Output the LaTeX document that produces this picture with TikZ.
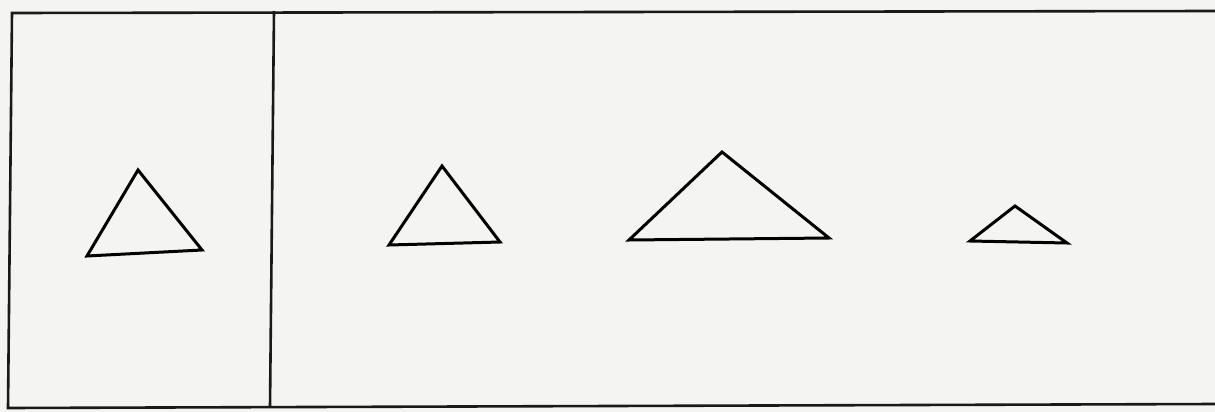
\documentclass[tikz,border=0pt]{standalone}
\usepackage{xcolor}
\usepackage{tikz}
\definecolor{tpaper}{RGB}{244,244,242}

\begin{document}
\begin{tikzpicture}[
  x=0.5pt, y=-0.5pt,
  tframe/.style={draw=black!90, line width=1.3pt},
  ttri/.style={draw=black, line width=1.5pt, line join=miter},
]
  % page and margins
  \fill[tpaper] (0,0) rectangle (1215,412);
  \useasboundingbox (0,0) rectangle (1215,412);
  % 1. frame
  \coordinate (ftl) at (12,13);
  \coordinate (fbl) at (8,408);
  \coordinate (ftr) at (1215,11);
  \coordinate (fbr) at (1215,404);
  \coordinate (dtop) at (274,11);
  \coordinate (dbot) at (270,407);
  \draw[tframe] (ftr) -- (ftl) -- (fbl) -- (fbr);
  \draw[tframe] (dtop) -- (dbot);
  % 2. sample triangle
  \coordinate (a1) at (87,256);
  \coordinate (b1) at (202,250);
  \coordinate (c1) at (138,170);
  \draw[ttri] (a1) -- (b1) -- (c1) -- cycle;
  % 3. choices
  \coordinate (a2) at (389,245);
  \coordinate (b2) at (500,242);
  \coordinate (c2) at (442,166);
  \draw[ttri] (a2) -- (b2) -- (c2) -- cycle;
  \coordinate (a3) at (629,240);
  \coordinate (b3) at (829,238);
  \coordinate (c3) at (722,152);
  \draw[ttri] (a3) -- (b3) -- (c3) -- cycle;
  \coordinate (a4) at (970,241);
  \coordinate (b4) at (1067,243);
  \coordinate (c4) at (1015,206);
  \draw[ttri] (a4) -- (b4) -- (c4) -- cycle;
\end{tikzpicture}
\end{document}
